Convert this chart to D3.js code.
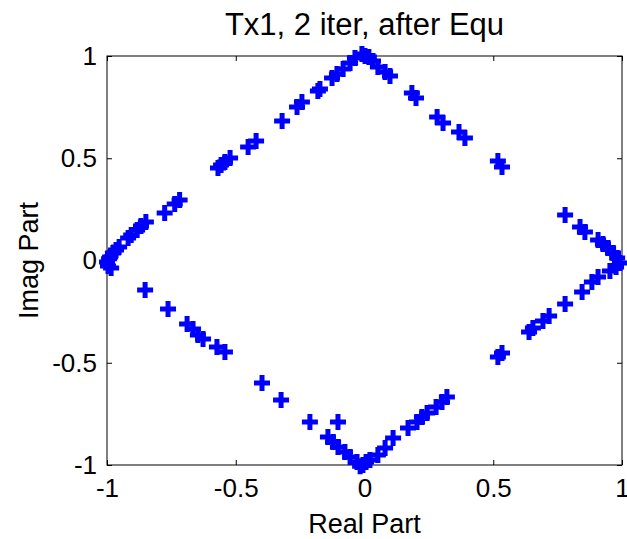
<!DOCTYPE html>
<html>
<head>
<meta charset="utf-8">
<script src="https://cdn.jsdelivr.net/npm/d3@7"></script>
<style>
html,body{margin:0;padding:0;background:#fff;}
svg{display:block;}
text{font-family:"Liberation Sans",Arial,Helvetica,sans-serif;fill:#000;}
</style>
</head>
<body>
<div id="chart"></div>
<script>
// ---- data ----
const titleText = "Tx1, 2 iter, after Equ";
const xLabel = "Real Part";
const yLabel = "Imag Part";
const xTicks = [-1, -0.5, 0, 0.5, 1];
const yTicks = [-1, -0.5, 0, 0.5, 1];
const xTickLabels = ["-1", "-0.5", "0", "0.5", "1"];
const yTickLabels = ["-1", "-0.5", "0", "0.5", "1"];

// real parts of the equalised symbols
const realPart = [
  -1.000,-0.996,-0.988,-0.977,-0.965,-0.953,-0.918,-0.906,-0.883,-0.868,-0.849,-0.776,-0.737,-0.718,
  -0.569,-0.557,-0.542,-0.522,-0.452,-0.421,-0.320,-0.262,-0.243,-0.181,-0.173,-0.126,-0.107,-0.083,
  -0.056,-0.037,-0.010,0.002,
  0.017,0.033,0.052,0.080,0.099,0.184,0.200,0.282,0.305,0.367,0.390,0.518,0.534,
  0.779,0.837,0.856,0.907,0.926,0.946,0.965,0.981,0.992,0.977,0.953,
  0.907,0.883,0.845,0.779,0.717,0.693,0.654,0.639,0.534,0.518,0.320,0.301,0.278,0.243,0.223,0.204,
  0.169,0.111,0.080,0.052,0.021,
  -0.006,-0.029,-0.056,-0.076,-0.103,-0.122,-0.142,-0.103,-0.212,-0.017,0.006,
  -0.324,-0.398,-0.542,-0.573,-0.627,-0.647,-0.666,-0.689,-0.763,-0.852,-0.984,-0.992
];
// imaginary parts of the equalised symbols
const imagPart = [
  -0.007,-0.027,0.017,0.037,0.051,0.066,0.110,0.125,0.149,0.169,0.188,0.232,0.276,0.296,
  0.452,0.467,0.482,0.501,0.555,0.584,0.682,0.751,0.775,0.829,0.839,0.892,0.912,0.936,
  0.966,0.990,1.010,1.000,
  0.995,0.976,0.946,0.922,0.902,0.819,0.795,0.702,0.672,0.628,0.599,0.487,0.457,
  0.222,0.164,0.139,0.100,0.081,0.061,0.037,0.012,-0.012,-0.032,-0.051,
  -0.081,-0.105,-0.154,-0.213,-0.272,-0.296,-0.330,-0.350,-0.452,-0.472,-0.667,-0.692,-0.716,-0.746,-0.765,-0.790,
  -0.819,-0.868,-0.917,-0.951,-0.976,
  -1.000,-0.985,-0.961,-0.936,-0.912,-0.888,-0.863,-0.790,-0.790,-1.006,-0.985,
  -0.682,-0.599,-0.447,-0.423,-0.384,-0.364,-0.335,-0.311,-0.237,-0.144,-0.037,0.008
];

// ---- layout ----
const W = 627, H = 539;
const margin = {top: 56, right: 5, bottom: 74, left: 107};
const iw = W - margin.left - margin.right;
const ih = H - margin.top - margin.bottom;

const svg = d3.select("#chart").append("svg").attr("width", W).attr("height", H);
const g = svg.append("g").attr("transform", `translate(${margin.left},${margin.top})`);

const x = d3.scaleLinear().domain([-1, 1]).range([0, iw]);
const y = d3.scaleLinear().domain([-1, 1]).range([ih, 0]);

const tickLen = 5;
const tickFont = 26;
const labelFont = 27;
const titleFont = 31;

// axes (ticks inward)
const xb = g.append("g").attr("transform", `translate(0,${ih})`)
  .call(d3.axisBottom(x).tickValues(xTicks).tickSize(-tickLen).tickPadding(14)
    .tickFormat((d, i) => xTickLabels[i]));
const xt = g.append("g")
  .call(d3.axisTop(x).tickValues(xTicks).tickSize(-tickLen).tickFormat(""));
const yl = g.append("g")
  .call(d3.axisLeft(y).tickValues(yTicks).tickSize(-tickLen).tickPadding(10)
    .tickFormat((d, i) => yTickLabels[i]));
const yr = g.append("g").attr("transform", `translate(${iw},0)`)
  .call(d3.axisRight(y).tickValues(yTicks).tickSize(-tickLen).tickFormat(""));

[xb, xt, yl, yr].forEach(a => {
  a.select(".domain").remove();
  a.selectAll("line").attr("stroke", "#000").attr("stroke-width", 1);
  a.selectAll("text").style("font-size", tickFont + "px")
    .style("font-family", '"Liberation Sans",Arial,Helvetica,sans-serif');
});

g.append("rect").attr("x", 0).attr("y", 0).attr("width", iw).attr("height", ih)
  .attr("fill", "none").attr("stroke", "#000").attr("stroke-width", 1);

// markers
const points = realPart.map((r, i) => ({re: r, im: imagPart[i]}));
const arm = 8;
g.append("g").selectAll("path").data(points).join("path")
  .attr("d", d => {
    const cx = x(d.re), cy = y(d.im);
    return `M${cx - arm},${cy}H${cx + arm}M${cx},${cy - arm}V${cy + arm}`;
  })
  .attr("stroke", "#0000ff").attr("stroke-width", 5).attr("fill", "none");

// title and labels
svg.append("text").attr("x", margin.left + iw / 2).attr("y", 35)
  .attr("text-anchor", "middle").style("font-size", titleFont + "px").text(titleText);
svg.append("text").attr("x", margin.left + iw / 2).attr("y", 533)
  .attr("text-anchor", "middle").style("font-size", labelFont + "px").text(xLabel);
svg.append("text").attr("transform", `translate(38,${margin.top + ih / 2}) rotate(-90)`)
  .attr("text-anchor", "middle").style("font-size", labelFont + "px").text(yLabel);
</script>
</body>
</html>
